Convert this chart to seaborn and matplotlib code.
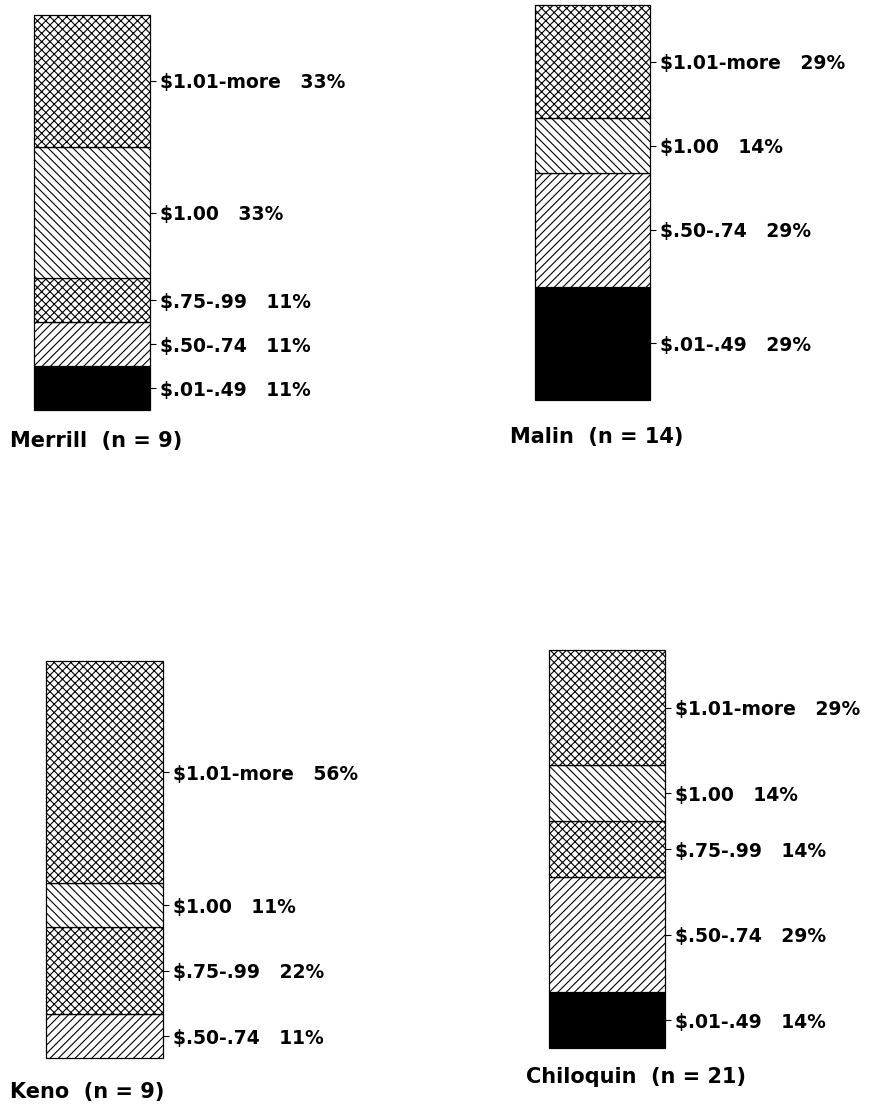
import matplotlib
matplotlib.use("Agg")
import matplotlib.pyplot as plt
import seaborn as sns

sns.set_theme(style="white")
plt.rcParams["font.family"] = ["DejaVu Sans"]
plt.rcParams["hatch.linewidth"] = 0.8
plt.rcParams["hatch.color"] = "black"

# Price categories, listed bottom to top of each stacked bar
categories = ["$.01-.49", "$.50-.74", "$.75-.99", "$1.00", "$1.01-more"]

# Percent of respondents per price category
merrill = [11, 11, 11, 33, 33]
malin = [29, 29, 0, 14, 29]
keno = [0, 11, 22, 11, 56]
chiloquin = [14, 29, 14, 14, 29]

towns = ["Merrill", "Malin", "Keno", "Chiloquin"]
sample_sizes = [9, 14, 9, 21]
series = [merrill, malin, keno, chiloquin]

# Fill style per category: (facecolor, hatch)
styles = {
    "$.01-.49": ("black", None),
    "$.50-.74": ("white", "////"),
    "$.75-.99": ("white", "xxxx"),
    "$1.00": ("white", "\\\\\\\\"),
    "$1.01-more": ("white", "xxxx"),
}

W, H = 869, 1110
fig = plt.figure(figsize=(W / 100, H / 100), dpi=100)
fig.patch.set_facecolor("white")

# Bar boxes in pixels: left, top, width, height; title anchor in pixels
boxes = [(34, 15, 116, 395), (535, 5, 115, 395), (46, 661, 117, 397), (549, 650, 116, 398)]
title_pos = [(10, 441), (510, 437), (10, 1092), (526, 1077)]

for town, n, vals, (left, top, w, h), (tx, ty) in zip(towns, sample_sizes, series, boxes, title_pos):
    ax = fig.add_axes([left / W, 1 - (top + h) / H, w / W, h / H])
    bottom = 0
    mids, labels = [], []
    for cat, v in zip(categories, vals):
        if v == 0:
            continue
        face, hatch = styles[cat]
        sns.barplot(x=[town], y=[v], bottom=bottom, color=face, edgecolor="black",
                    linewidth=0.9, hatch=hatch, width=0.8, saturation=1, ax=ax)
        mids.append(bottom + v / 2)
        labels.append(f"{cat}   {v}%")
        bottom += v
    for p in ax.patches:
        p.set_clip_on(False)
    ax.set_xlim(-0.4, 0.4)
    ax.set_ylim(0, bottom)
    for s in ax.spines.values():
        s.set_visible(False)
    ax.set_xticks([])
    ax.set_xlabel("")
    ax.set_ylabel("")
    ax.yaxis.tick_right()
    ax.set_yticks(mids)
    ax.set_yticklabels(labels, fontsize=13.5, fontweight="bold")
    ax.tick_params(axis="y", right=True, left=False, length=4, width=0.8,
                   color="black", pad=3, labelcolor="black")
    ax.set_facecolor("none")
    fig.text(tx / W, 1 - ty / H, f"{town}  (n = {n})", fontsize=15, fontweight="bold",
             ha="left", va="center", color="black")

fig.savefig("out.png", dpi=100, facecolor="white")
